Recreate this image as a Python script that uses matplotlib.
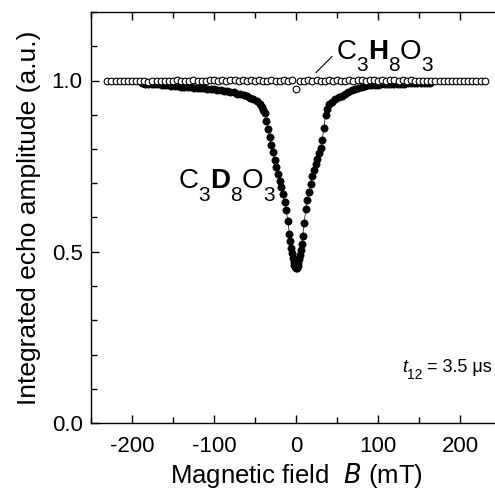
#Integrated echo amplitude vs magnetic field for deuterated and protonated glycerol
import numpy as np
import matplotlib
matplotlib.use("Agg")
import matplotlib.pyplot as plt
from matplotlib.ticker import MultipleLocator, FormatStrFormatter

plt.rcParams['font.family'] = ['Liberation Sans', 'DejaVu Sans']
plt.rcParams['axes.unicode_minus'] = False

#C3D8O3 (filled symbols)
field_d = [-188, -184, -180, -176, -172, -168, -164, -160, -156, -152,
           -148, -144, -140, -136, -132, -128, -124, -120, -116, -112,
           -108, -104, -100, -96, -92, -88, -84, -80, -76, -72,
           -68, -64, -60, -56, -52, -48, -44,
           -42, -40, -38, -36, -34, -32, -30, -28, -26, -24,
           -22, -20, -18, -16, -14, -12, -10, -8,
           -7, -6, -5, -4, -3, -2, -1, 0, 1, 2, 3, 4, 5, 6, 7,
           8, 10, 12, 14, 16, 18, 20, 22, 24, 26,
           28, 30, 32, 34, 36, 38, 40,
           44, 48, 52, 56, 60, 64, 68, 72, 76, 80,
           84, 88, 92, 96, 100, 104, 108, 112, 116, 120,
           124, 128, 132, 136, 140, 144, 148, 152, 156, 160, 164]
amp_d = [0.992, 0.991, 0.990, 0.990, 0.989, 0.989, 0.988, 0.987, 0.986, 0.985,
         0.984, 0.983, 0.982, 0.981, 0.981, 0.980, 0.979, 0.978, 0.977, 0.977,
         0.976, 0.975, 0.974, 0.973, 0.972, 0.970, 0.968, 0.967, 0.965, 0.962,
         0.960, 0.957, 0.954, 0.950, 0.946, 0.940, 0.932,
         0.922, 0.914, 0.905, 0.882, 0.858, 0.834, 0.812, 0.790, 0.768, 0.748,
         0.728, 0.708, 0.688, 0.668, 0.646, 0.622, 0.590, 0.552,
         0.532, 0.512, 0.496, 0.482, 0.470, 0.461, 0.455, 0.452, 0.454, 0.459,
         0.467, 0.478, 0.491, 0.506, 0.524,
         0.546, 0.585, 0.625, 0.652, 0.675, 0.698, 0.720, 0.740, 0.757, 0.772,
         0.787, 0.802, 0.826, 0.862, 0.898, 0.918, 0.930,
         0.938, 0.945, 0.951, 0.956, 0.961, 0.966, 0.971, 0.975, 0.978, 0.981,
         0.984, 0.986, 0.987, 0.988, 0.988, 0.989, 0.989, 0.990, 0.990, 0.990,
         0.991, 0.991, 0.991, 0.992, 0.992, 0.992, 0.993, 0.993, 0.993, 0.994, 0.994]

#C3H8O3 (open symbols)
field_h = [-230, -225, -220, -215, -210, -205, -200, -195, -190, -185,
           -180, -175, -170, -165, -160, -155, -150, -145, -140, -135,
           -130, -125, -120, -115, -110, -105, -100, -95, -90, -85,
           -80, -75, -70, -65, -60, -55, -50, -45, -40, -35,
           -30, -25, -20, -15, -10, -5, 0, 5, 10, 15,
           20, 25, 30, 35, 40, 45, 50, 55, 60, 65,
           70, 75, 80, 85, 90, 95, 100, 105, 110, 115,
           120, 125, 130, 135, 140, 145, 150, 155, 160, 165,
           170, 175, 180, 185, 190, 195, 200, 205, 210, 215,
           220, 225, 230]
amp_h = [0.998, 0.999, 0.998, 0.999, 0.998, 0.999, 0.999, 0.998, 0.999, 0.998,
         0.997, 0.998, 0.999, 0.998, 1.000, 0.999, 0.999, 1.001, 1.000, 0.999,
         1.000, 1.001, 1.000, 0.999, 1.000, 1.001, 1.001, 1.000, 1.001, 1.000,
         1.001, 1.001, 1.000, 1.001, 1.000, 1.001, 1.000, 1.001, 1.000, 1.000,
         1.001, 1.000, 1.000, 1.001, 1.000, 1.001, 0.975, 1.000, 1.000, 1.001,
         1.000, 1.001, 1.000, 1.000, 1.001, 1.000, 1.001, 1.000, 1.000, 1.001,
         1.000, 1.001, 1.002, 1.000, 1.001, 1.002, 1.000, 1.001, 1.000, 1.001,
         1.002, 1.000, 1.001, 1.000, 1.001, 1.000, 1.000, 0.999, 1.000, 0.999,
         0.999, 0.999, 0.998, 0.999, 0.998, 0.998, 0.999, 0.998, 0.998, 0.999,
         0.998, 0.999, 0.998]


def label(ax, x, y, parts, size, subsize, drop):
    #parts: (text, kind) with kind n=normal, b=bold, i=italic, s=subscript
    first = ax.text(x, y, parts[0][0], fontsize=size, va="baseline",
                    fontweight="bold" if parts[0][1] == "b" else "normal",
                    fontstyle="italic" if parts[0][1] == "i" else "normal")
    prev = first
    for s, kind in parts[1:]:
        if kind == "s":
            prev = ax.annotate(s, xy=(1, 0), xycoords=(prev, first), xytext=(0, -drop),
                               textcoords="offset points", fontsize=subsize, va="bottom")
        else:
            prev = ax.annotate(s, xy=(1, 0), xycoords=(prev, first), xytext=(0, 0),
                               textcoords="offset points", fontsize=size, va="bottom",
                               fontweight="bold" if kind == "b" else "normal",
                               fontstyle="italic" if kind == "i" else "normal")


fig = plt.figure(figsize=(4.95, 4.92), dpi=100)
ax = fig.add_axes([91/495, 69/492, 410/495, 411/492])

ax.plot(field_d, amp_d, color="black", lw=0.5, marker="o", ms=5.2,
        mfc="black", mec="black", mew=0.5, zorder=2)
ax.plot(field_h, amp_h, ls="none", marker="o", ms=4.8,
        mfc="white", mec="black", mew=0.8, zorder=3)

ax.set_xlim(-250, 250)
ax.set_ylim(0, 1.2)
ax.xaxis.set_major_locator(MultipleLocator(100))
ax.xaxis.set_minor_locator(MultipleLocator(50))
ax.yaxis.set_major_locator(MultipleLocator(0.5))
ax.yaxis.set_minor_locator(MultipleLocator(0.1))
ax.yaxis.set_major_formatter(FormatStrFormatter("%.1f"))
ax.tick_params(which="both", direction="in", top=True, right=False,
               width=1.0, labelsize=16)
ax.tick_params(axis="x", pad=9)
ax.tick_params(axis="y", pad=6)
ax.tick_params(which="major", length=6)
ax.tick_params(which="minor", length=4)
for s in ax.spines.values():
    s.set_linewidth(1.0)

ax.set_xlabel("Magnetic field  $B$ (mT)", fontsize=18.5, labelpad=3)
ax.set_ylabel("Integrated echo amplitude (a.u.)", fontsize=19, labelpad=8)

label(ax, 49, 1.064, [("C", "n"), ("3", "s"), ("H", "b"), ("8", "s"), ("O", "n"), ("3", "s")],
      20, 15, 7.5)
ax.plot([24.4, 43.9], [1.023, 1.070], color="black", lw=0.8)
label(ax, -143, 0.685, [("C", "n"), ("3", "s"), ("D", "b"), ("8", "s"), ("O", "n"), ("3", "s")],
      20, 15, 7.5)
label(ax, 129, 0.149, [("t", "i"), ("12", "s"), (" = 3.5 μs", "n")], 13, 10, 4.5)

plt.savefig("out.png", dpi=100)
